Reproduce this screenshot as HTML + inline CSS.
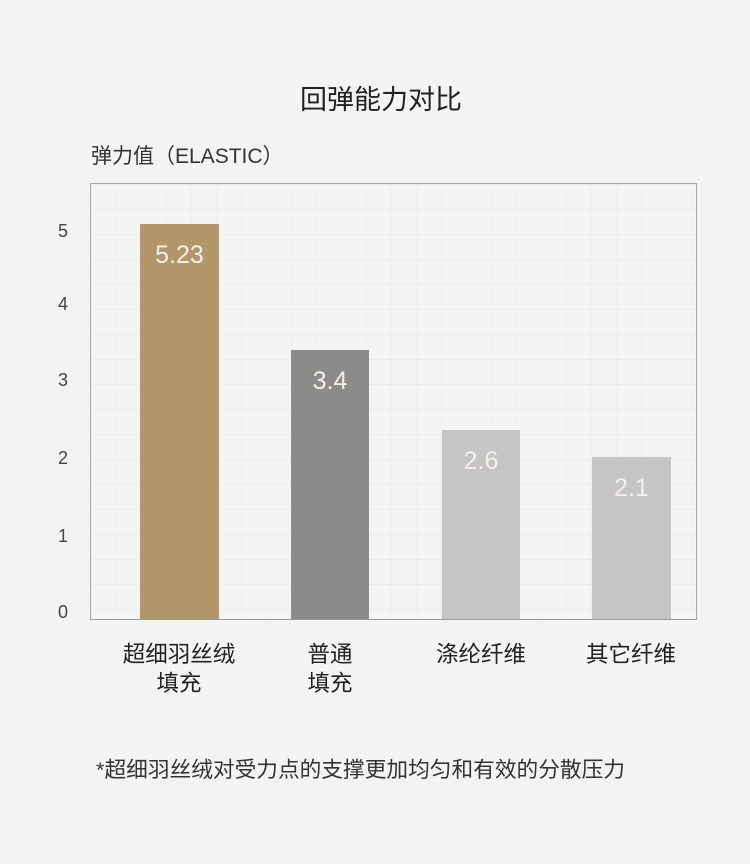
<!DOCTYPE html>
<html><head><meta charset="utf-8"><style>
body{margin:0;width:750px;height:864px;background:#f3f3f3;font-family:"Liberation Sans","Noto Sans CJK SC",sans-serif;position:relative;overflow:hidden}
.a{position:absolute}
.t{color:#222}
.bar{position:absolute;bottom:0}
.v{position:absolute;width:100%;text-align:center;color:#f4f0ea;font-size:25px;top:17px}
.yl{position:absolute;left:50px;width:26px;text-align:center;font-size:18px;color:#444}
.xl{position:absolute;width:160px;text-align:center;font-size:22.5px;color:#222;line-height:29px;top:640px}
</style></head><body>
<div class="a t" style="left:0;width:762px;top:78px;text-align:center;font-size:27px">回弹能力对比</div>
<div class="a t" style="left:91px;top:140px;font-size:21px;color:#333">弹力值（ELASTIC）</div>
<div class="a" style="left:90px;top:183px;width:605px;height:435px;border:1px solid #a8a8a8;border-bottom:1px solid #999;background-color:#f4f4f4;background-image:linear-gradient(#ececec 1px,transparent 1px),linear-gradient(90deg,#efefef 1px,transparent 1px);background-size:25px 25px,25px 25px">
  <div class="bar" style="left:49px;width:79px;height:395px;background:#b39669"><div class="v">5.23</div></div>
  <div class="bar" style="left:200px;width:78px;height:269px;background:#8b8b8b"><div class="v">3.4</div></div>
  <div class="bar" style="left:351px;width:78px;height:189px;background:#c5c5c5"><div class="v">2.6</div></div>
  <div class="bar" style="left:501px;width:79px;height:162px;background:#c5c5c5"><div class="v">2.1</div></div>
</div>
<div class="yl" style="top:221px">5</div>
<div class="yl" style="top:294px">4</div>
<div class="yl" style="top:370px">3</div>
<div class="yl" style="top:448px">2</div>
<div class="yl" style="top:526px">1</div>
<div class="yl" style="top:602px">0</div>
<div class="xl" style="left:99px">超细羽丝绒<br>填充</div>
<div class="xl" style="left:250px">普通<br>填充</div>
<div class="xl" style="left:401px">涤纶纤维</div>
<div class="xl" style="left:551px">其它纤维</div>
<div class="a" style="left:96px;top:753px;font-size:21.7px;color:#333">*超细羽丝绒对受力点的支撑更加均匀和有效的分散压力</div>
</body></html>
